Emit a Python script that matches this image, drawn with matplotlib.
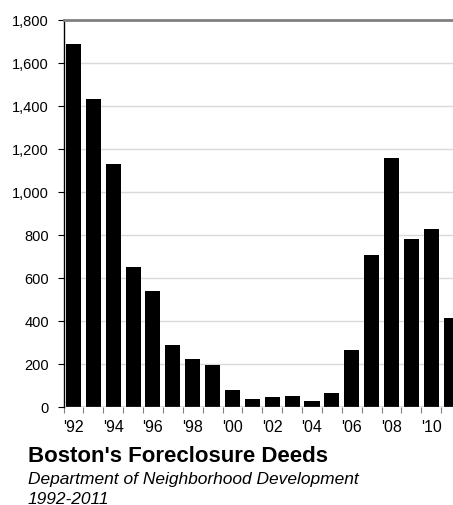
import matplotlib
matplotlib.use("Agg")
import matplotlib.pyplot as plt
from matplotlib.ticker import FuncFormatter, MultipleLocator
import numpy as np

years = list(range(1992, 2012))
deeds = [1684, 1433, 1131, 651, 537, 289, 221, 196, 80, 36,
         46, 49, 29, 65, 266, 706, 1158, 781, 826, 414]
year_labels = ["'92", "'94", "'96", "'98", "'00", "'02", "'04", "'06", "'08", "'10"]

title = "Boston's Foreclosure Deeds"
subtitle = "Department of Neighborhood Development"
period = "1992-2011"

plt.rcParams["font.family"] = ["Liberation Sans", "DejaVu Sans"]

W, H = 453, 506
fig = plt.figure(figsize=(W / 100, H / 100), dpi=100)
left_px, top_px, bottom_px = 63.5, 20.5, 408.0
step_px = 19.88
ax = fig.add_axes([left_px / W, 1 - bottom_px / H, 1 - left_px / W, (bottom_px - top_px) / H])

x = np.arange(len(years))
ax.bar(x, deeds, width=0.755, color="black", zorder=3)

ax.yaxis.set_major_locator(MultipleLocator(200))
ax.yaxis.set_major_formatter(FuncFormatter(lambda v, p: f"{int(v):,}"))
ax.grid(axis="y", color="#d9d9d9", linewidth=1.0, zorder=0)

ax.set_xticks(x[::2])
ax.set_xticklabels(year_labels)
ax.set_xticks(np.arange(-0.5, len(years), 1.0), minor=True)
ax.tick_params(axis="x", which="major", length=0, pad=8.5, labelsize=11.5)
ax.tick_params(axis="x", which="minor", length=4, width=0.8, color="#808080", direction="out")
ax.tick_params(axis="y", which="major", length=4, width=0.8, pad=6.5, labelsize=10.5, color="black")

# view limits set after the ticks so the last bar runs off the right edge
ax.set_ylim(0, 1800)
ax.set_xlim(-0.5, -0.5 + (W - left_px) / step_px)

for side in ("right", "bottom"):
    ax.spines[side].set_visible(False)
ax.spines["left"].set_color("black")
ax.spines["left"].set_linewidth(1.0)
ax.spines["top"].set_color("#808080")
ax.spines["top"].set_linewidth(2.0)
ax.axhline(0, color="#808080", linewidth=1.0, zorder=4)

fig.text(28 / W, 1 - 462 / H, title, fontsize=16, fontweight="bold", ha="left", va="baseline")
fig.text(28 / W, 1 - 484.5 / H, subtitle, fontsize=12.5, style="italic", ha="left", va="baseline")
fig.text(28 / W, 1 - 504 / H, period, fontsize=12.5, style="italic", ha="left", va="baseline")

fig.savefig("out.png", dpi=100)
